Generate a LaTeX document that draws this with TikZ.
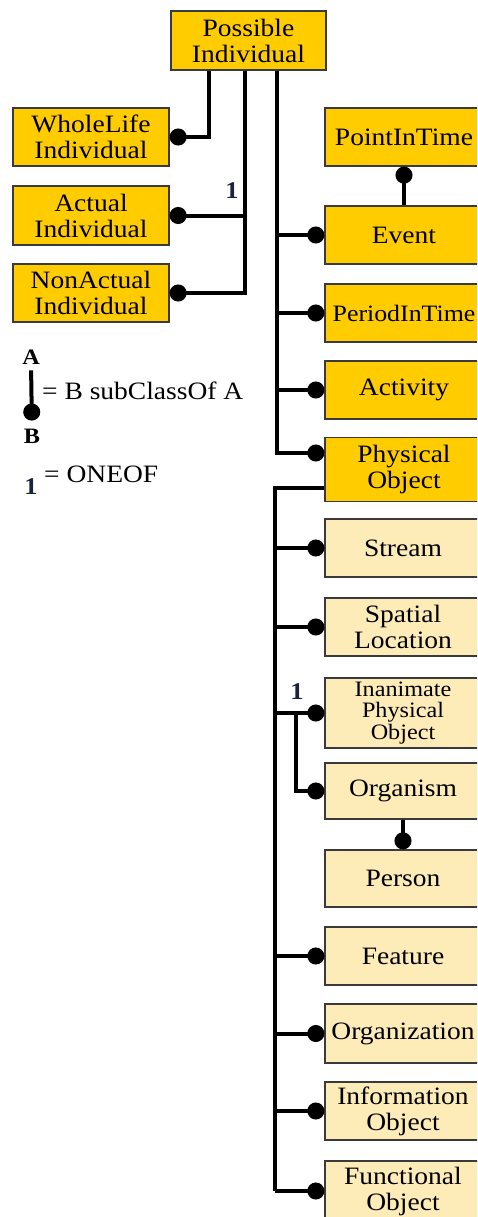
\documentclass[tikz,border=0pt]{standalone}
\usepackage{fontspec}
\setmainfont{Liberation Serif}[FakeStretch=1.1]
\usetikzlibrary{arrows.meta}
\definecolor{dkfill}{HTML}{FFCC00}
\definecolor{ltfill}{HTML}{FDEBB8}
\definecolor{bord}{HTML}{3A3A3A}
\definecolor{navy}{HTML}{1A2240}
\tikzset{
  boxbase/.style={draw=bord, line width=1.3pt, inner sep=0pt, align=center,
    font=\fontsize{25}{26}\selectfont},
  dbox/.style={boxbase, fill=dkfill},
  lbox/.style={boxbase, fill=ltfill},
  conn/.style={line width=4pt, black, -{Circle[length=17pt,width=17pt]}},
  plain/.style={line width=4pt, black},
  onelab/.style={font=\fontsize{24}{24}\selectfont\bfseries, text=navy, inner sep=0pt}
}
\begin{document}
\begin{tikzpicture}[x=1pt,y=-1pt]
\useasboundingbox (0,0) rectangle (477,1217);
\clip (0,0) rectangle (477,1217);
% top boxes
\node[dbox, minimum width=155, minimum height=59] (PI) at (248.5,40.5) {Possible\\Individual};
\node[dbox, minimum width=156, minimum height=58] (WL) at (91,137) {WholeLife\\Individual};
\node[dbox, minimum width=156, minimum height=59] (AI) at (91,215.5) {Actual\\Individual};
\node[dbox, minimum width=156, minimum height=58] (NA) at (91,293) {NonActual\\Individual};
\node[dbox, minimum width=158, minimum height=58] (PT) at (404,137) {PointInTime};
\node[dbox, minimum width=158, minimum height=58] (EV) at (404,235) {Event};
\node[dbox, minimum width=158, minimum height=58, font=\fontsize{23.5}{26}\selectfont] (PE) at (404,313) {PeriodInTime};
\node[dbox, minimum width=158, minimum height=58] (AC) at (404,390) {Activity};
\node[dbox, minimum width=158, minimum height=64] (PO) at (404,469.5) {Physical\\Object};
% lower boxes
\node[lbox, minimum width=156, minimum height=58] (ST) at (403,548) {Stream};
\node[lbox, minimum width=156, minimum height=58] (SL) at (403,627) {Spatial\\Location};
\node[lbox, minimum width=156, minimum height=70, font=\fontsize{22}{21.5}\selectfont] (IP) at (403,713) {Inanimate\\Physical\\Object};
\node[lbox, minimum width=156, minimum height=56] (OR) at (403,791) {Organism};
\node[lbox, minimum width=156, minimum height=57] (PS) at (403,878.5) {Person};
\node[lbox, minimum width=156, minimum height=58] (FE) at (403,956) {Feature};
\node[lbox, minimum width=156, minimum height=59] (OG) at (403,1033.5) {Organization};
\node[lbox, minimum width=156, minimum height=58] (IO) at (403,1111) {Information\\Object};
\node[lbox, minimum width=156, minimum height=60] (FO) at (403,1191) {Functional\\Object};
% trunk coordinates
\coordinate (t1) at (209,0);
\coordinate (t2) at (245,0);
\coordinate (t3) at (277,0);
\coordinate (pout) at ([yshift=-18.5pt]PO.west);
\coordinate (tk) at (275,488);
\coordinate (t5) at (296,0);
% connectors from Possible Individual
\draw[conn] (PI.south -| t1) |- (WL.east);
\draw[conn] (PI.south -| t2) |- (AI.east);
\draw[conn] (PI.south -| t2) |- (NA.east);
\draw[conn] (PI.south -| t3) |- (EV.west);
\draw[conn] (PI.south -| t3) |- (PE.west);
\draw[conn] (PI.south -| t3) |- (AC.west);
\draw[conn] (PI.south -| t3) |- ([yshift=16.5pt]PO.west);
\draw[conn] (EV.north) -- (PT.south);
% connectors from Physical Object
\draw[plain] (pout) -| (tk |- FO.west);
\foreach \c in {ST,SL,IP,FE,OG,IO,FO}{
  \draw[conn] (tk |- \c.west) -- (\c.west);
}
\draw[conn] (tk |- IP.west) -| (t5 |- OR.west) -- (OR.west);
\draw[conn] (OR.south) -- (PS.north);
% ONEOF labels
\node[onelab] (one1) at (232,191) {1};
\node[onelab] (one2) at (297,692) {1};
% legend
\node[font=\fontsize{22}{22}\selectfont\bfseries, inner sep=0pt] (LA) at (31,357) {A};
\node[font=\fontsize{22}{22}\selectfont\bfseries, inner sep=0pt] (LB) at (32,436) {B};
\draw[conn, shorten <=6pt, shorten >=8pt] (LA.south) -- (LB.north);
\node[anchor=west, inner sep=0pt, font=\fontsize{25}{25}\selectfont] (LT) at (42,391) {= B subClassOf A};
\node[font=\fontsize{24}{24}\selectfont\bfseries, text=navy, inner sep=0pt] (L1) at (31,487) {1};
\node[anchor=west, inner sep=0pt, font=\fontsize{25}{25}\selectfont] (L2) at (44,474) {= ONEOF};
\end{tikzpicture}
\end{document}
